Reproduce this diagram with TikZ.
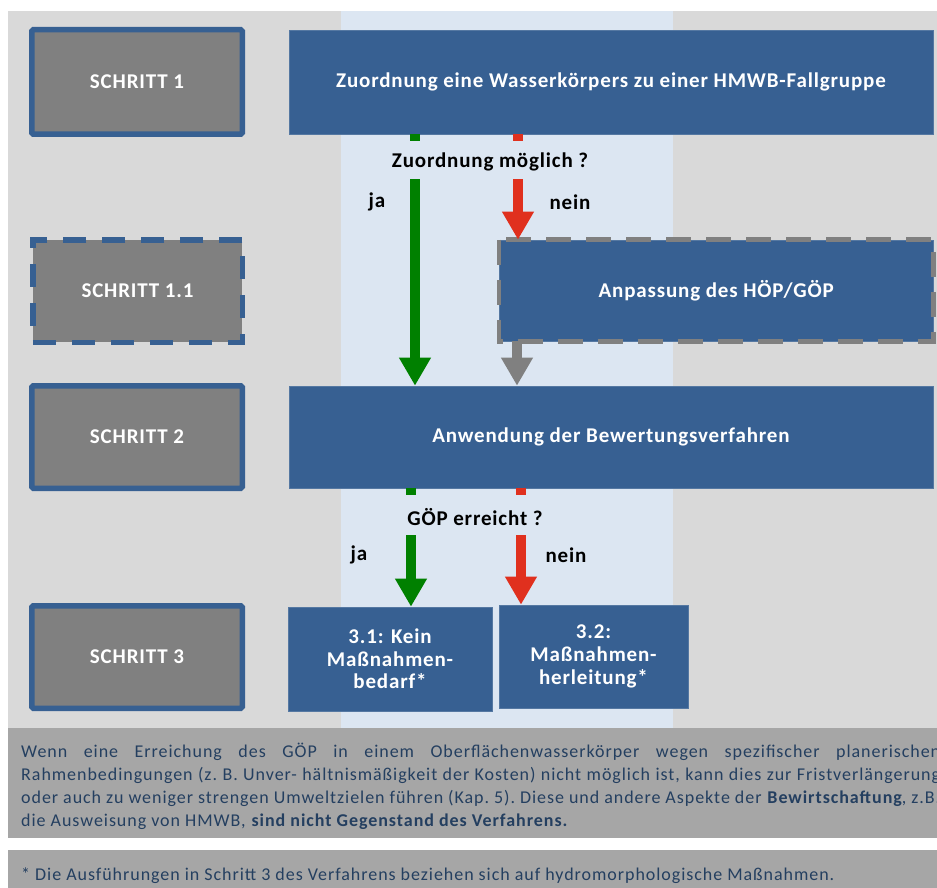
\documentclass[tikz,border=0pt]{standalone}
\usepackage{fontspec}
\setmainfont{Carlito}
\newfontfamily\bodyfont{Carlito}[LetterSpace=5.3]
\newfontfamily\headfont{Carlito}[LetterSpace=4]
\usetikzlibrary{arrows.meta}
\definecolor{bggray}{HTML}{D9D9D9}
\definecolor{colblue}{HTML}{DCE6F2}
\definecolor{boxblue}{HTML}{376092}
\definecolor{stepgray}{HTML}{808080}
\definecolor{txtbox}{HTML}{A6A6A6}
\definecolor{txtcol}{HTML}{243F60}
\definecolor{arrgreen}{HTML}{008000}
\definecolor{arrred}{HTML}{E0301E}
\definecolor{arrgray}{HTML}{808080}
\begin{document}
\begin{tikzpicture}[x=1pt,y=-1pt,
  stepbox/.style={draw=boxblue, line width=5.5pt, fill=stepgray, rounded corners=1.5pt,
    inner sep=0pt, text=white, font=\headfont\bfseries\fontsize{21}{24}\selectfont},
  stepdash/.style={stepbox, dash pattern=on 23pt off 16pt, rounded corners=0pt},
  bluebox/.style={fill=boxblue, draw=boxblue!85!white, line width=0.6pt, inner sep=0pt, text=white,
    align=center, font=\headfont\bfseries\fontsize{21}{22.7}\selectfont},
  graydash/.style={draw=arrgray, line width=4.5pt, dash pattern=on 25pt off 15pt},
  lbl/.style={inner sep=0pt, font=\headfont\bfseries\fontsize{21}{24}\selectfont, text=black},
  flowarrow/.style={line width=9.5pt, -{Triangle[width=30pt,length=28pt]}},
  stub/.style={line width=9.5pt}
]
\useasboundingbox (0,0) rectangle (937,888);
\fill[white] (0,0) rectangle (937,888);
\fill[bggray] (8,11) rectangle (937,728);
\fill[colblue] (341,11) rectangle (673,728);
\fill[txtbox] (8,728) rectangle (937,838);
\fill[txtbox] (8,850) rectangle (937,888);

% step boxes
\node[stepbox, minimum width=210.5pt, minimum height=104.5pt] (s1) at (137,82) {SCHRITT 1};
\node[stepdash, minimum width=209.5pt, minimum height=102.5pt] (s11) at (137.5,291) {SCHRITT 1.1};
\node[stepbox, minimum width=210.5pt, minimum height=102.5pt] (s2) at (137,437) {SCHRITT 2};
\node[stepbox, minimum width=210.5pt, minimum height=102.5pt] (s3) at (137,657) {SCHRITT 3};

% blue boxes
\node[bluebox, minimum width=644pt, minimum height=104pt] (z) at (611,82) {Zuordnung eine Wasserkörpers zu einer HMWB-Fallgruppe};
\node[bluebox, minimum width=433.5pt, minimum height=101pt] (anp) at (716.25,290.5) {Anpassung des HÖP/GÖP};
\draw[graydash] (anp.north west) rectangle (anp.south east);
\node[bluebox, minimum width=644pt, minimum height=102pt] (anw) at (611,437) {Anwendung der Bewertungsverfahren};
\node[bluebox, minimum width=204pt, minimum height=104pt] (b31) at (390,659) {3.1: Kein\\Maßnahmen-\\bedarf*};
\node[bluebox, minimum width=189pt, minimum height=103pt] (b32) at (593.5,656.5) {3.2:\\Maßnahmen-\\herleitung*};

% labels
\node[lbl] (q1) at (490,162) {Zuordnung möglich ?};
\node[lbl] (ja1) at (377,202) {ja};
\node[lbl] (nein1) at (570,202) {nein};
\node[lbl] (q2) at (475,517) {GÖP erreicht ?};
\node[lbl] (ja2) at (359,555) {ja};
\node[lbl] (nein2) at (566,555) {nein};

% arrows, upper
\coordinate (g1) at (415,179);
\coordinate (r1) at (518,179);
\coordinate (k1) at (517,343);
\draw[stub, arrgreen] (g1 |- z.south) -- ++(0,7);
\draw[stub, arrred] (r1 |- z.south) -- ++(0,7);
\draw[flowarrow, arrgreen] (g1) -- (g1 |- anw.north);
\draw[flowarrow, arrred] (r1) -- (r1 |- anp.north);
\draw[flowarrow, arrgray] (k1 |- anp.south) -- (k1 |- anw.north);

% arrows, lower
\coordinate (g2) at (411,535);
\coordinate (r2) at (521,535);
\draw[stub, arrgreen] (g2 |- anw.south) -- ++(0,7);
\draw[stub, arrred] (r2 |- anw.south) -- ++(0,7);
\draw[flowarrow, arrgreen] (g2) -- (g2 |- b31.north);
\draw[flowarrow, arrred] (r2) -- (r2 |- b32.north);

% text
\node[anchor=base west, inner sep=0pt, text=txtcol] (para) at (21,757) {\parbox[t]{919pt}{\bodyfont\frenchspacing\fontsize{18}{23.3}\selectfont
Wenn eine Erreichung des GÖP in einem Oberflächenwasserkörper wegen spezifischer planerischen\linebreak
Rahmenbedingungen (z. B. Unver- hältnismäßigkeit der Kosten) nicht möglich ist, kann dies zur Fristverlängerung\linebreak
oder auch zu weniger strengen Umweltzielen führen (Kap. 5). Diese und andere Aspekte der \textbf{Bewirtschaftung}, z.B.\linebreak
die Ausweisung von HMWB, \textbf{sind nicht Gegenstand des Verfahrens.}}};
\node[anchor=base west, inner sep=0pt, text=txtcol, font=\bodyfont\fontsize{18}{23.3}\selectfont] (fn) at (21,880) {* Die Ausführungen in Schritt 3 des Verfahrens beziehen sich auf hydromorphologische Maßnahmen.};
\end{tikzpicture}
\end{document}
